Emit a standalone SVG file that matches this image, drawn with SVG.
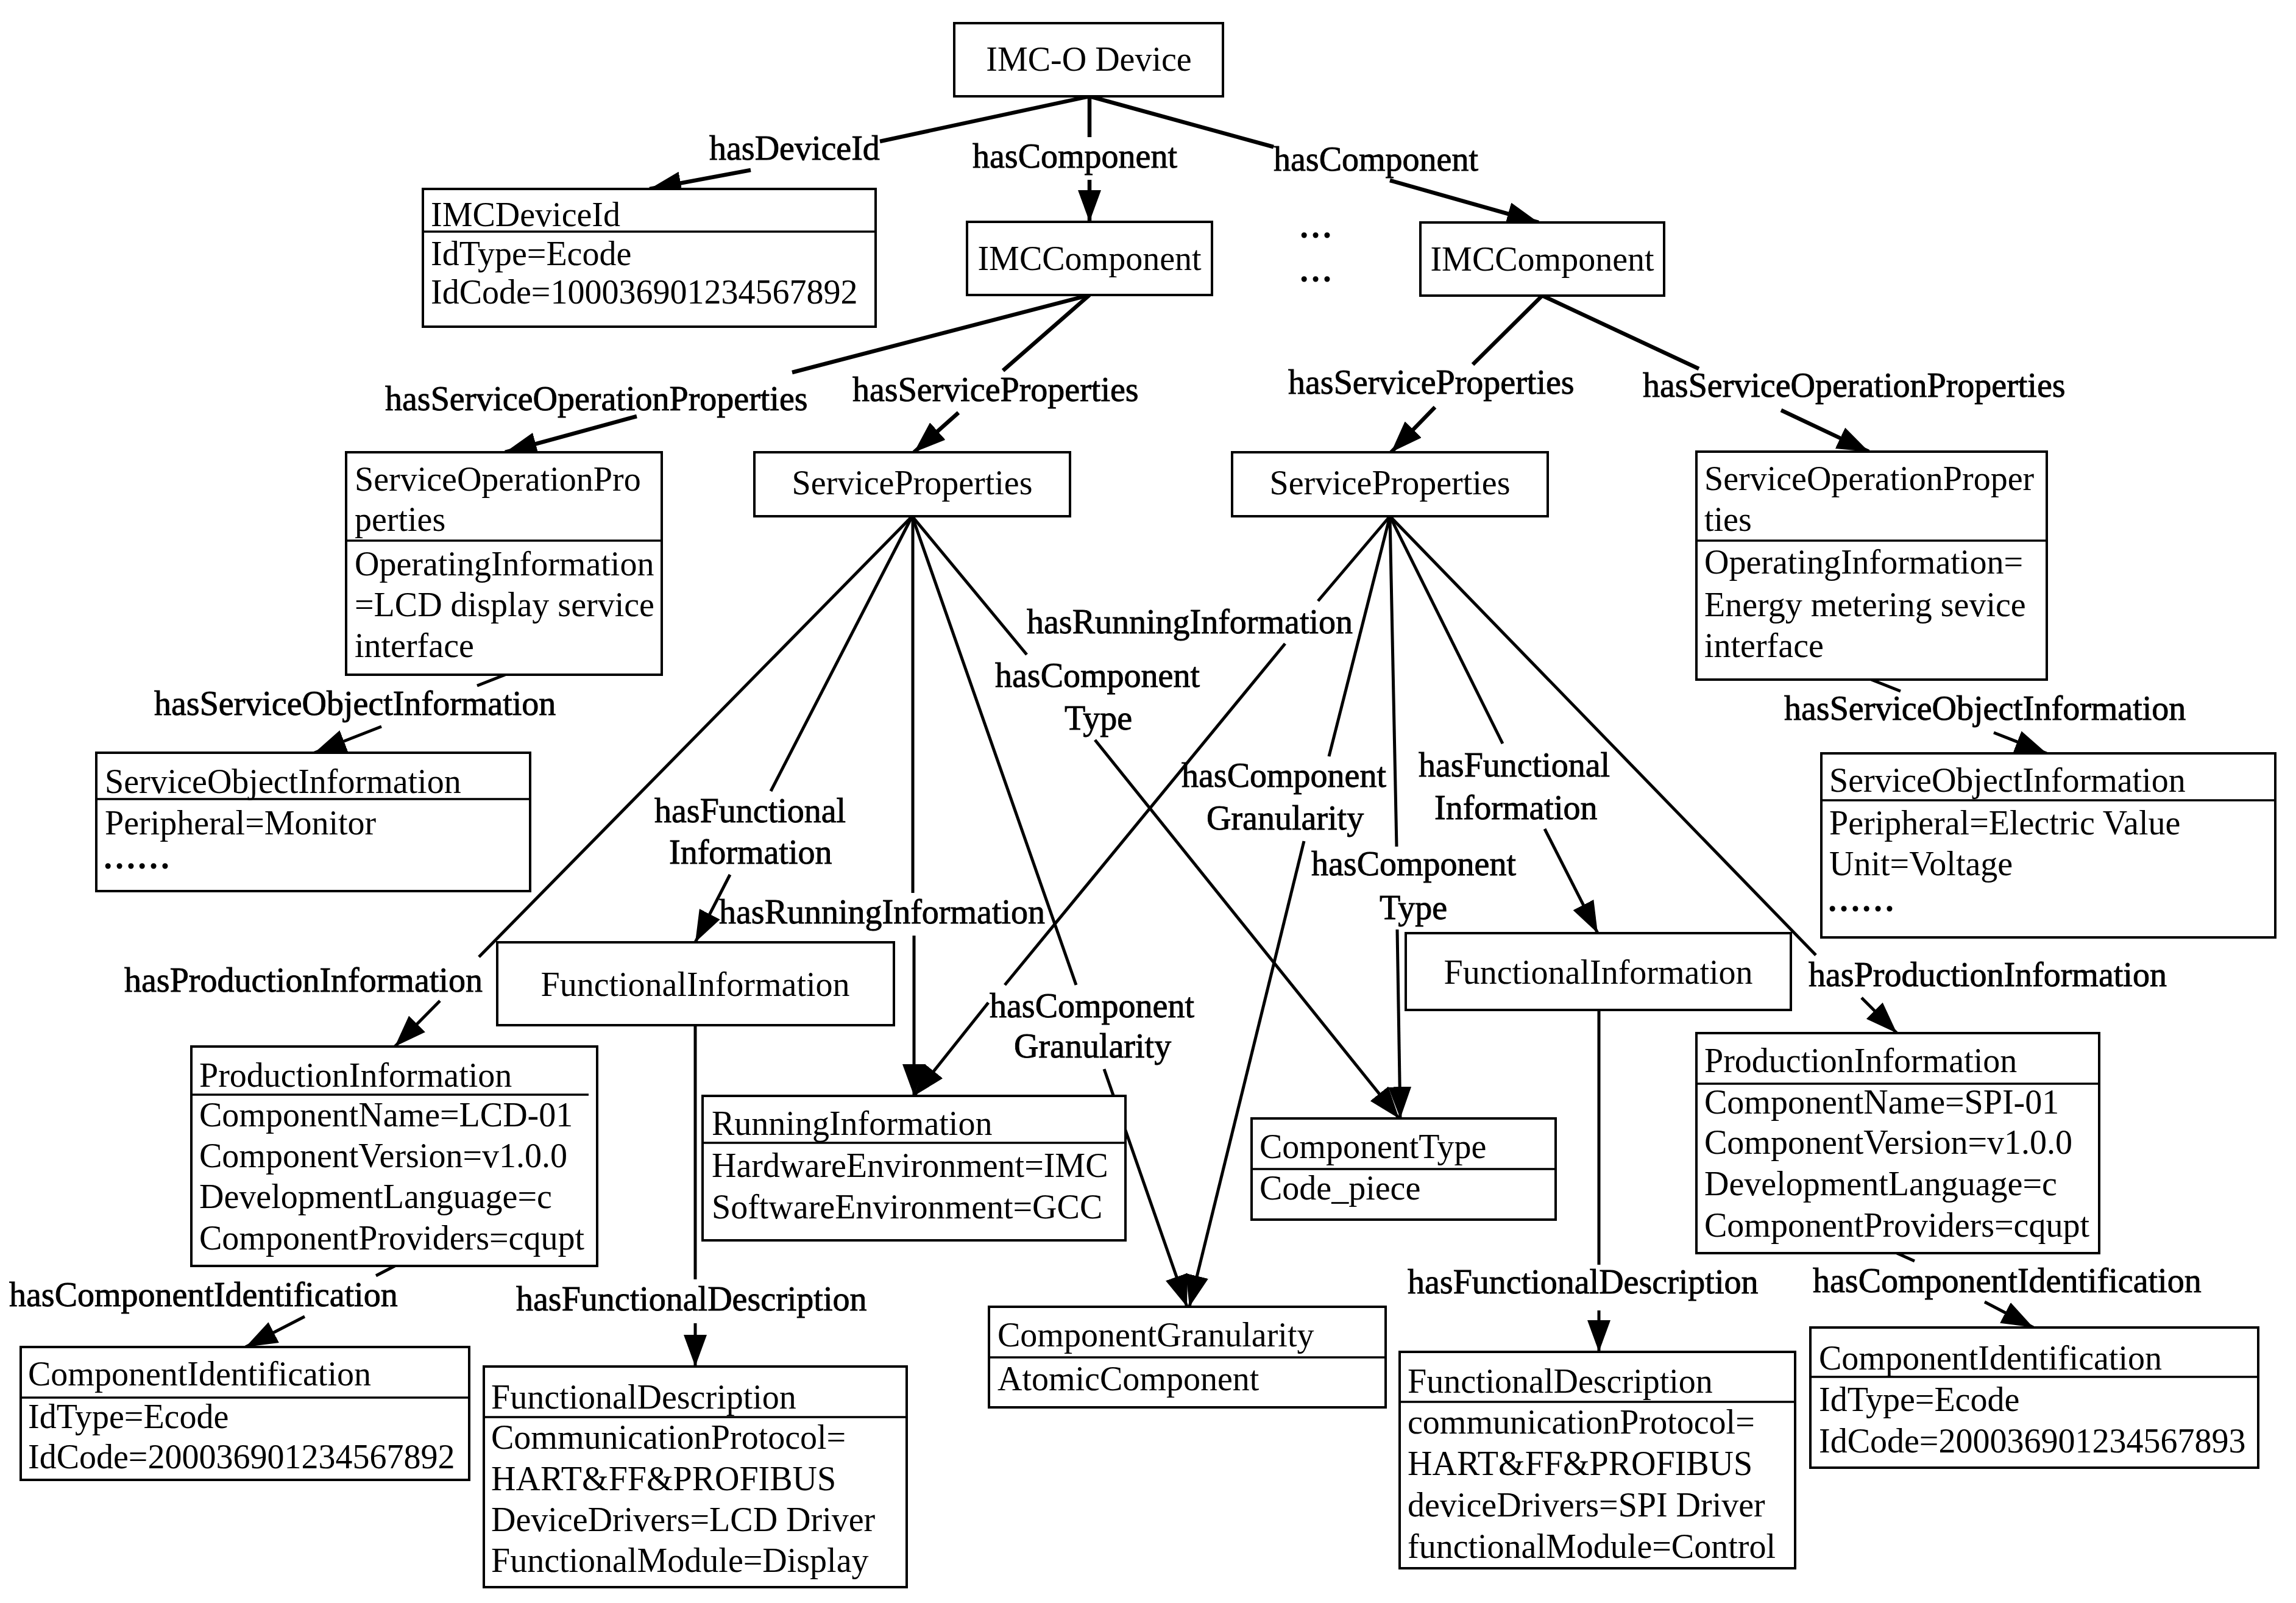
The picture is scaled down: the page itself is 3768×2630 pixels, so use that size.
<svg xmlns="http://www.w3.org/2000/svg" width="3768" height="2630" viewBox="0 0 3768 2630">
<style>
.bg{fill:#fff}
.box{fill:#fff;stroke:#000;stroke-width:4}
.dv{stroke:#000;stroke-width:3.5}
.t{font-family:"Liberation Serif","Times New Roman","Noto Sans CJK SC",serif;font-size:56px;fill:#000}
.lb{stroke:#000;stroke-width:0.9}
.c{text-anchor:middle}
.dots{font-weight:bold}
.e{stroke:#000;stroke-width:5;fill:none}
.e6{stroke:#000;stroke-width:6.5;fill:none}
.a{marker-end:url(#arr)}
</style>
<defs>
<marker id="arr" markerUnits="userSpaceOnUse" viewBox="0 0 52 38" refX="52" refY="19" markerWidth="52" markerHeight="38" orient="auto">
<path d="M0,0 L52,19 L0,38 Z" fill="#000"/>
</marker>
</defs>
<rect class="bg" x="0" y="0" width="3768" height="2630"/>

<g id="connectors">
<!-- IMC-O Device -->
<line class="e6" x1="1788" y1="158" x2="1444" y2="232"/><line class="e6 a" x1="1232" y1="279" x2="1066" y2="310"/>
<line class="e6" x1="1788" y1="158" x2="1788" y2="225"/><line class="e6 a" x1="1788" y1="295" x2="1788" y2="364"/>
<line class="e6" x1="1788" y1="158" x2="2090" y2="241"/><line class="e6 a" x1="2281" y1="296" x2="2525" y2="365"/>
<!-- IMCComponent left -->
<line class="e6" x1="1788" y1="484" x2="1300" y2="611"/><line class="e6 a" x1="1045" y1="683" x2="829" y2="742"/>
<line class="e6" x1="1788" y1="484" x2="1646" y2="608"/><line class="e6 a" x1="1573" y1="677" x2="1500" y2="742"/>
<!-- IMCComponent right -->
<line class="e6" x1="2531" y1="485" x2="2417" y2="598"/><line class="e6 a" x1="2355" y1="668" x2="2283" y2="742"/>
<line class="e6" x1="2531" y1="485" x2="2788" y2="605"/><line class="e6 a" x1="2923" y1="673" x2="3067" y2="741"/>
<!-- service object -->
<line class="e" x1="829" y1="1107" x2="783" y2="1125"/><line class="e a" x1="626" y1="1192" x2="516" y2="1235"/>
<line class="e" x1="3071" y1="1115" x2="3119" y2="1134"/><line class="e a" x1="3272" y1="1202" x2="3359" y2="1236"/>
<!-- left ServiceProperties -->
<line class="e" x1="1497" y1="847" x2="786" y2="1570"/><line class="e a" x1="722" y1="1642" x2="648" y2="1717"/>
<line class="e" x1="1497" y1="847" x2="1265" y2="1298"/><line class="e a" x1="1198" y1="1435" x2="1141" y2="1546"/>
<line class="e" x1="1498" y1="847" x2="1498" y2="1465"/><line class="e a" x1="1500" y1="1535" x2="1500" y2="1798"/>
<line class="e" x1="1497" y1="847" x2="1766" y2="1616"/><line class="e a" x1="1812" y1="1754" x2="1948" y2="2144"/>
<line class="e" x1="1497" y1="847" x2="1685" y2="1074"/><line class="e a" x1="1797" y1="1214" x2="2296" y2="1835"/>
<!-- right ServiceProperties -->
<line class="e" x1="2281" y1="847" x2="2163" y2="986"/><line class="e" x1="2109" y1="1056" x2="1649" y2="1616"/><line class="e a" x1="1622" y1="1645" x2="1500" y2="1798"/>
<line class="e" x1="2281" y1="847" x2="2181" y2="1241"/><line class="e a" x1="2140" y1="1380" x2="1952" y2="2144"/>
<line class="e" x1="2281" y1="847" x2="2292" y2="1389"/><line class="e a" x1="2293" y1="1525" x2="2298" y2="1835"/>
<line class="e" x1="2281" y1="847" x2="2466" y2="1220"/><line class="e a" x1="2535" y1="1360" x2="2622" y2="1531"/>
<line class="e" x1="2281" y1="847" x2="2980" y2="1567"/><line class="e a" x1="3055" y1="1637" x2="3113" y2="1695"/>
<!-- functional description -->
<line class="e" x1="1141" y1="1682" x2="1141" y2="2099"/><line class="e a" x1="1141" y1="2171" x2="1141" y2="2242"/>
<line class="e" x1="2624" y1="1657" x2="2624" y2="2075"/><line class="e a" x1="2624" y1="2150" x2="2624" y2="2218"/>
<!-- component identification -->
<line class="e" x1="648" y1="2077" x2="617" y2="2093"/><line class="e a" x1="500" y1="2160" x2="403" y2="2210"/>
<line class="e" x1="3113" y1="2056" x2="3142" y2="2069"/><line class="e a" x1="3257" y1="2136" x2="3337" y2="2178"/>

<!-- labels -->
<text class="t lb" x="1164" y="262">hasDeviceId</text>
<text class="t lb" x="1596" y="275">hasComponent</text>
<text class="t lb" x="2090" y="280">hasComponent</text>
<text class="t lb" x="632" y="673">hasServiceOperationProperties</text>
<text class="t lb" x="1399" y="658">hasServiceProperties</text>
<text class="t lb" x="2114" y="646">hasServiceProperties</text>
<text class="t lb" x="2696" y="651">hasServiceOperationProperties</text>
<text class="t lb" x="253" y="1173">hasServiceObjectInformation</text>
<text class="t lb" x="2928" y="1181">hasServiceObjectInformation</text>
<text class="t lb" x="1685" y="1039">hasRunningInformation</text>
<text class="t lb" x="1633" y="1127">hasComponent</text>
<text class="t lb" x="1747" y="1197">Type</text>
<text class="t lb" x="1939" y="1291">hasComponent</text>
<text class="t lb" x="1980" y="1361">Granularity</text>
<text class="t lb" x="1074" y="1349">hasFunctional</text>
<text class="t lb" x="1098" y="1417">Information</text>
<text class="t lb" x="2328" y="1274">hasFunctional</text>
<text class="t lb" x="2354" y="1344">Information</text>
<text class="t lb" x="2152" y="1436">hasComponent</text>
<text class="t lb" x="2264" y="1508">Type</text>
<text class="t lb" x="1180" y="1515">hasRunningInformation</text>
<text class="t lb" x="1624" y="1669">hasComponent</text>
<text class="t lb" x="1664" y="1735">Granularity</text>
<text class="t lb" x="204" y="1627">hasProductionInformation</text>
<text class="t lb" x="2968" y="1618">hasProductionInformation</text>
<text class="t lb" x="15" y="2143">hasComponentIdentification</text>
<text class="t lb" x="847" y="2150">hasFunctionalDescription</text>
<text class="t lb" x="2310" y="2122">hasFunctionalDescription</text>
<text class="t lb" x="2975" y="2120">hasComponentIdentification</text>
<text class="t dots" x="2131" y="390">…</text>
<text class="t dots" x="2131" y="462">…</text>
</g>

<g id="imco-device">
<rect class="box" x="1566" y="38" width="441" height="120"/>
<text class="t c" x="1787" y="116">IMC-O Device</text>
</g>
<g id="imc-device-id">
<rect class="box" x="694" y="310" width="743" height="226"/>
<line class="dv" x1="694" y1="380" x2="1437" y2="380"/>
<text class="t" x="707" y="371">IMCDeviceId</text>
<text class="t" x="707" y="435">IdType=Ecode</text>
<text class="t" x="707" y="498">IdCode=100036901234567892</text>
</g>
<g id="imc-component-left">
<rect class="box" x="1587" y="364" width="402" height="120"/>
<text class="t c" x="1788" y="443">IMCComponent</text>
</g>
<g id="imc-component-right">
<rect class="box" x="2331" y="365" width="400" height="120"/>
<text class="t c" x="2531" y="444">IMCComponent</text>
</g>
<g id="service-properties-left">
<rect class="box" x="1238" y="742" width="518" height="105"/>
<text class="t c" x="1497" y="811">ServiceProperties</text>
</g>
<g id="service-properties-right">
<rect class="box" x="2022" y="742" width="518" height="105"/>
<text class="t c" x="2281" y="811">ServiceProperties</text>
</g>
<g id="service-operation-left">
<rect class="box" x="568" y="742" width="518" height="365"/>
<line class="dv" x1="568" y1="887" x2="1086" y2="887"/>
<text class="t" x="582" y="805">ServiceOperationPro</text>
<text class="t" x="582" y="871">perties</text>
<text class="t" x="582" y="944">OperatingInformation</text>
<text class="t" x="582" y="1011">=LCD display service</text>
<text class="t" x="582" y="1078">interface</text>
</g>
<g id="service-operation-right">
<rect class="box" x="2784" y="741" width="575" height="374"/>
<line class="dv" x1="2784" y1="887" x2="3359" y2="887"/>
<text class="t" x="2797" y="804">ServiceOperationProper</text>
<text class="t" x="2797" y="871">ties</text>
<text class="t" x="2797" y="941">OperatingInformation=</text>
<text class="t" x="2797" y="1011">Energy metering sevice</text>
<text class="t" x="2797" y="1078">interface</text>
</g>
<g id="service-object-left">
<rect class="box" x="158" y="1235" width="712" height="227"/>
<line class="dv" x1="158" y1="1311" x2="870" y2="1311"/>
<text class="t" x="172" y="1301">ServiceObjectInformation</text>
<text class="t" x="172" y="1369">Peripheral=Monitor</text>
<text class="t dots" x="168" y="1425">……</text>
</g>
<g id="service-object-right">
<rect class="box" x="2989" y="1236" width="745" height="302"/>
<line class="dv" x1="2989" y1="1313" x2="3734" y2="1313"/>
<text class="t" x="3002" y="1299">ServiceObjectInformation</text>
<text class="t" x="3002" y="1369">Peripheral=Electric Value</text>
<text class="t" x="3002" y="1436">Unit=Voltage</text>
<text class="t dots" x="2998" y="1495">……</text>
</g>
<g id="production-info-left">
<rect class="box" x="314" y="1717" width="666" height="360"/>
<line class="dv" x1="314" y1="1796" x2="966" y2="1796"/>
<text class="t" x="327" y="1783">ProductionInformation</text>
<text class="t" x="327" y="1848">ComponentName=LCD-01</text>
<text class="t" x="327" y="1915">ComponentVersion=v1.0.0</text>
<text class="t" x="327" y="1982">DevelopmentLanguage=c</text>
<text class="t" x="327" y="2050">ComponentProviders=cqupt</text>
</g>
<g id="functional-info-left">
<rect class="box" x="816" y="1546" width="651" height="136"/>
<text class="t c" x="1141" y="1634">FunctionalInformation</text>
</g>
<g id="running-info">
<rect class="box" x="1153" y="1798" width="694" height="237"/>
<line class="dv" x1="1153" y1="1875" x2="1847" y2="1875"/>
<text class="t" x="1168" y="1862">RunningInformation</text>
<text class="t" x="1168" y="1931">HardwareEnvironment=IMC</text>
<text class="t" x="1168" y="1999">SoftwareEnvironment=GCC</text>
</g>
<g id="component-type">
<rect class="box" x="2054" y="1835" width="499" height="166"/>
<line class="dv" x1="2054" y1="1918" x2="2553" y2="1918"/>
<text class="t" x="2067" y="1900">ComponentType</text>
<text class="t" x="2067" y="1968">Code_piece</text>
</g>
<g id="component-granularity">
<rect class="box" x="1623" y="2144" width="651" height="165"/>
<line class="dv" x1="1623" y1="2227" x2="2274" y2="2227"/>
<text class="t" x="1637" y="2209">ComponentGranularity</text>
<text class="t" x="1637" y="2281">AtomicComponent</text>
</g>
<g id="functional-info-right">
<rect class="box" x="2307" y="1531" width="632" height="126"/>
<text class="t c" x="2623" y="1614">FunctionalInformation</text>
</g>
<g id="production-info-right">
<rect class="box" x="2784" y="1695" width="661" height="361"/>
<line class="dv" x1="2784" y1="1778" x2="3445" y2="1778"/>
<text class="t" x="2797" y="1759">ProductionInformation</text>
<text class="t" x="2797" y="1827">ComponentName=SPI-01</text>
<text class="t" x="2797" y="1893">ComponentVersion=v1.0.0</text>
<text class="t" x="2797" y="1961">DevelopmentLanguage=c</text>
<text class="t" x="2797" y="2029">ComponentProviders=cqupt</text>
</g>
<g id="component-id-left">
<rect class="box" x="34" y="2210" width="736" height="218"/>
<line class="dv" x1="34" y1="2293" x2="770" y2="2293"/>
<text class="t" x="46" y="2273">ComponentIdentification</text>
<text class="t" x="46" y="2343">IdType=Ecode</text>
<text class="t" x="46" y="2409">IdCode=200036901234567892</text>
</g>
<g id="functional-desc-left">
<rect class="box" x="794" y="2242" width="694" height="362"/>
<line class="dv" x1="794" y1="2325" x2="1488" y2="2325"/>
<text class="t" x="806" y="2311">FunctionalDescription</text>
<text class="t" x="806" y="2377">CommunicationProtocol=</text>
<text class="t" x="806" y="2445">HART&amp;FF&amp;PROFIBUS</text>
<text class="t" x="806" y="2512">DeviceDrivers=LCD Driver</text>
<text class="t" x="806" y="2579">FunctionalModule=Display</text>
</g>
<g id="component-id-right">
<rect class="box" x="2971" y="2178" width="735" height="230"/>
<line class="dv" x1="2971" y1="2259" x2="3706" y2="2259"/>
<text class="t" x="2985" y="2247">ComponentIdentification</text>
<text class="t" x="2985" y="2315">IdType=Ecode</text>
<text class="t" x="2985" y="2383">IdCode=200036901234567893</text>
</g>
<g id="functional-desc-right">
<rect class="box" x="2297" y="2218" width="649" height="355"/>
<line class="dv" x1="2297" y1="2300" x2="2946" y2="2300"/>
<text class="t" x="2310" y="2285">FunctionalDescription</text>
<text class="t" x="2310" y="2352">communicationProtocol=</text>
<text class="t" x="2310" y="2420">HART&amp;FF&amp;PROFIBUS</text>
<text class="t" x="2310" y="2488">deviceDrivers=SPI Driver</text>
<text class="t" x="2310" y="2556">functionalModule=Control</text>
</g>
</svg>
